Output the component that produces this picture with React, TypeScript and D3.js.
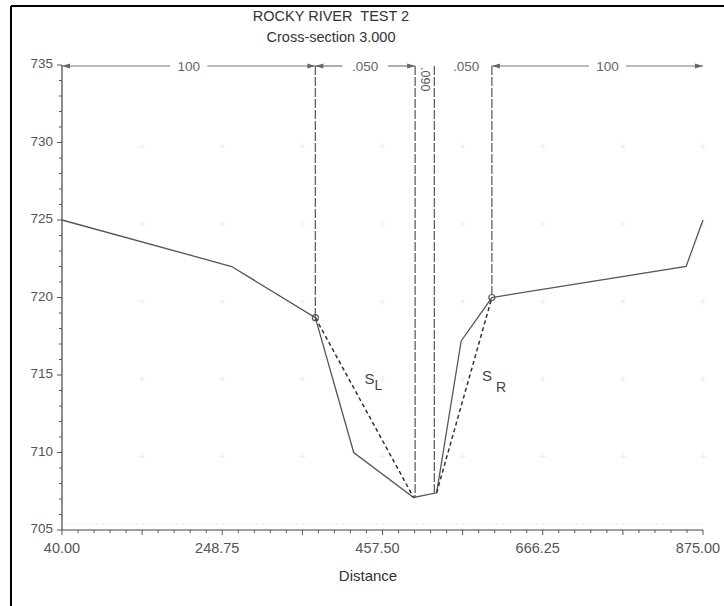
import React from "react";
import * as d3 from "d3";

// ---- data ----
const stations = [40, 261, 370, 420, 498, 528, 560, 600, 853, 875];
const elevations = [725, 722, 718.7, 710, 707.1, 707.4, 717.2, 720, 722, 725];
const nBreaks = [40, 370, 500, 525, 600, 875];
const nValues = ["100", ".050", ".090", ".050", "100"];
const bankStations = [370, 600];
const slopeLeft = [370, 498];
const slopeRight = [528, 600];
const xTickValues = [40, 248.75, 457.5, 666.25, 875];
const xTickLabels = ["40.00", "248.75", "457.50", "666.25", "875.00"];
const yTickValues = [705, 710, 715, 720, 725, 730, 735];
const title = "ROCKY RIVER  TEST 2";
const subtitle = "Cross-section 3.000";
const xTitle = "Distance";

const FONT = "'Liberation Sans', Arial, sans-serif";

export default function App() {
  const x = d3.scaleLinear().domain([40, 875]).range([62, 703]);
  const y = d3.scaleLinear().domain([705, 735]).range([530, 65]);
  const ground = d3.scaleLinear().domain(stations).range(elevations);

  const line = d3
    .line<number>()
    .x((d, i) => x(stations[i]))
    .y((d) => y(d));

  const xMinor = d3.range(0, 41).map((i) => 40 + i * 20.875);
  const xMajor = d3.range(0, 9).map((i) => 40 + i * 104.375);
  const yMinor = d3.range(705, 736, 1);
  const barY = y(735) + 1;
  const labelShift = [0, 0, 0, 3, 10];

  const arrow = (px: number, dir: number) =>
    `${px},${barY} ${px - dir * 8},${barY - 2.5} ${px - dir * 8},${barY + 2.5}`;

  return (
    <svg
      width={724}
      height={606}
      style={{ position: "absolute", left: 0, top: 0, background: "#fff" }}
      fontFamily={FONT}
    >
      <rect x={0} y={0} width={724} height={606} fill="#fff" />
      {/* frame */}
      <line x1={11} y1={6} x2={724} y2={6} stroke="#000" strokeWidth={2} />
      <line x1={11} y1={6} x2={11} y2={606} stroke="#000" strokeWidth={2} />

      {/* titles */}
      <text x={331} y={21} textAnchor="middle" fontSize={14.5} fill="#333" style={{ whiteSpace: "pre" }}>
        {title}
      </text>
      <text x={331} y={42} textAnchor="middle" fontSize={14.5} fill="#333">
        {subtitle}
      </text>

      {/* faint grid marks */}
      {xMajor.slice(1).map((xv) =>
        yTickValues.slice(1, -1).map((yv) => (
          <g key={`g${xv}-${yv}`} stroke="#ebebeb" strokeWidth={1}>
            <line x1={x(xv) - 3} x2={x(xv) + 3} y1={y(yv) + 4} y2={y(yv) + 4} />
            <line x1={x(xv)} x2={x(xv)} y1={y(yv) + 1} y2={y(yv) + 7} />
          </g>
        ))
      )}
      <line x1={x(40) + 4} x2={x(875)} y1={y(705) - 6} y2={y(705) - 6} stroke="#ececec" strokeDasharray="3,2" />

      {/* axes */}
      <line x1={x(40)} x2={x(40)} y1={y(735)} y2={y(705)} stroke="#444" strokeWidth={1.2} />
      <line x1={x(40)} x2={x(875)} y1={y(705)} y2={y(705)} stroke="#444" strokeWidth={1.2} />
      {yMinor.map((v) => (
        <line
          key={`ym${v}`}
          x1={x(40) - (v % 5 === 0 ? 5 : 3)}
          x2={x(40)}
          y1={y(v)}
          y2={y(v)}
          stroke="#555"
        />
      ))}
      {yTickValues.map((v) => (
        <text key={`yl${v}`} x={53} y={y(v) + 3} textAnchor="end" fontSize={13.5} fill="#555">
          {v}
        </text>
      ))}
      {xMinor.map((v, i) => (
        <line
          key={`xm${i}`}
          x1={x(v)}
          x2={x(v)}
          y1={y(705)}
          y2={y(705) + (i % 5 === 0 ? 5 : 3)}
          stroke="#555"
        />
      ))}
      {xTickValues.map((v, i) => (
        <text
          key={`xl${i}`}
          x={x(v) + (i === 0 ? 0 : -5)}
          y={553}
          textAnchor="middle"
          fontSize={14.5}
          fill="#555"
        >
          {xTickLabels[i]}
        </text>
      ))}
      <text x={368} y={581} textAnchor="middle" fontSize={15} fill="#333">
        {xTitle}
      </text>

      {/* vertical n-value boundary lines */}
      {nBreaks.slice(1, -1).map((s) => (
        <line
          key={`vb${s}`}
          x1={x(s)}
          x2={x(s)}
          y1={barY}
          y2={y(ground(s))}
          stroke="#555"
          strokeWidth={1.2}
          strokeDasharray="9,2"
        />
      ))}

      {/* n-value bar */}
      {nValues.map((n, i) => {
        const a = x(nBreaks[i]);
        const b = x(nBreaks[i + 1]);
        const mid = (a + b) / 2 + labelShift[i];
        if (i === 2) {
          return (
            <text
              key={`n${i}`}
              transform={`translate(${mid - 4},${barY + 1}) rotate(90)`}
              fontSize={12.5}
              fill="#555"
            >
              {n}
            </text>
          );
        }
        if (i === 3) {
          return (
            <text key={`n${i}`} x={mid} y={barY + 5} textAnchor="middle" fontSize={13.5} fill="#666">
              {n}
            </text>
          );
        }
        const half = n.length * 4.2 + 6;
        return (
          <g key={`n${i}`}>
            <line x1={a} x2={mid - half} y1={barY} y2={barY} stroke="#777" strokeWidth={1.2} />
            <line x1={mid + half} x2={b} y1={barY} y2={barY} stroke="#777" strokeWidth={1.2} />
            <polygon points={arrow(a, -1)} fill="#666" />
            <polygon points={arrow(b, 1)} fill="#666" />
            <text x={mid} y={barY + 5} textAnchor="middle" fontSize={13.5} fill="#666">
              {n}
            </text>
          </g>
        );
      })}

      {/* ground profile */}
      <path d={line(elevations) || ""} fill="none" stroke="#555" strokeWidth={1.3} />

      {/* bank stations */}
      {bankStations.map((s) => (
        <circle key={`bk${s}`} cx={x(s)} cy={y(ground(s))} r={3} fill="none" stroke="#555" strokeWidth={1.2} />
      ))}

      {/* slope lines */}
      {[slopeLeft, slopeRight].map((seg, i) => (
        <line
          key={`sl${i}`}
          x1={x(seg[0])}
          y1={y(ground(seg[0]))}
          x2={x(seg[1])}
          y2={y(ground(seg[1]))}
          stroke="#333"
          strokeWidth={1.5}
          strokeDasharray="4,3"
        />
      ))}
      <text x={x(434)} y={y(714.4)} fontSize={15} fill="#444">
        S
        <tspan dx={0} dy={6} fontSize={14}>
          L
        </tspan>
      </text>
      <text x={x(587)} y={y(714.6)} fontSize={15} fill="#444">
        S
        <tspan dx={4} dy={11} fontSize={14}>
          R
        </tspan>
      </text>
    </svg>
  );
}
